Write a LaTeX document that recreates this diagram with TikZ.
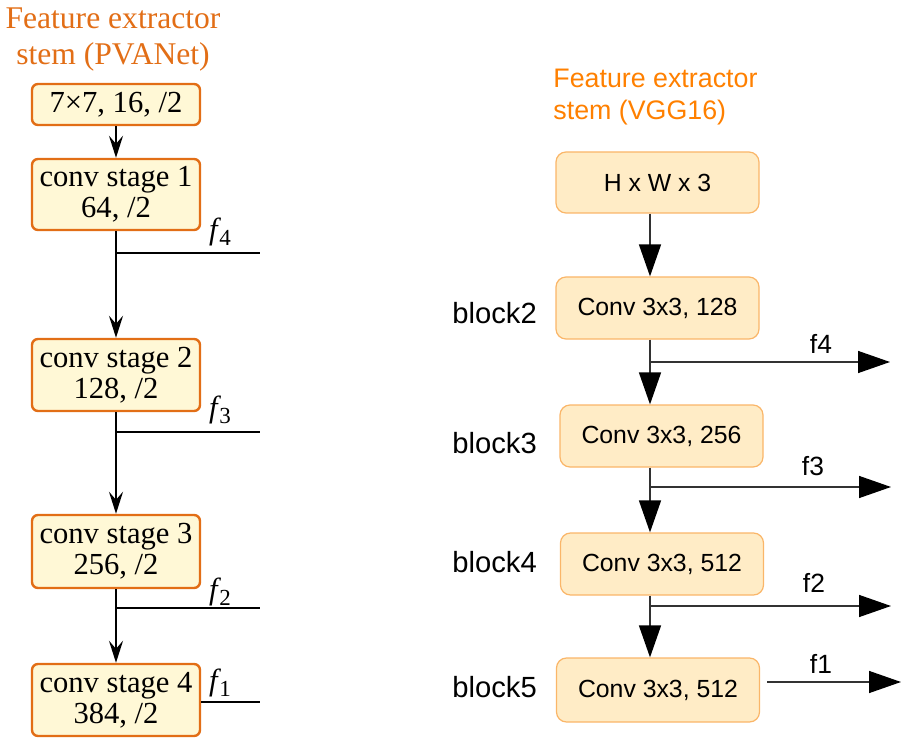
\documentclass[tikz,border=0pt]{standalone}
\usepackage{fontspec}
\setmainfont{Liberation Serif}
\setsansfont{Liberation Sans}
\usetikzlibrary{arrows.meta,calc}
\definecolor{pvaorange}{RGB}{226,110,22}
\definecolor{pvafill}{RGB}{255,248,214}
\definecolor{vggorange}{RGB}{255,128,0}
\definecolor{vggdraw}{RGB}{250,182,105}
\definecolor{vggfill}{RGB}{255,236,198}
\definecolor{vggline}{RGB}{50,50,50}
% italic f with a lowered upright index
\newcommand{\findex}[1]{f\kern0.8pt\raisebox{-0.45ex}{\upshape\fontsize{11.5}{12}\selectfont #1}}
\begin{document}
\begin{tikzpicture}[x=0.5pt,y=-0.5pt,
  pvabox/.style={draw=pvaorange, fill=pvafill, line width=1.2pt,
    rounded corners=3pt, minimum width=84pt, inner sep=0pt, align=center,
    font=\rmfamily\fontsize{15.3}{15.5}\selectfont},
  pvatitle/.style={text=pvaorange, align=center, inner sep=0pt,
    font=\rmfamily\fontsize{15.8}{18}\selectfont},
  pvalabel/.style={inner sep=0pt, font=\rmfamily\fontsize{15.3}{15}\selectfont\itshape},
  pvaline/.style={line width=1.25pt, draw=black},
  pvaarrow/.style={pvaline, -{Stealth[length=11pt,width=7pt,inset=4pt]}},
  vggbox/.style={draw=vggdraw, fill=vggfill, line width=0.6pt,
    rounded corners=5pt, minimum width=101.5pt, inner sep=0pt,
    font=\sffamily\fontsize{12.4}{14}\selectfont},
  vggtitle/.style={text=vggorange, align=left, inner sep=0pt,
    font=\sffamily\fontsize{13.4}{16}\selectfont},
  blocklabel/.style={inner sep=0pt, anchor=base west,
    font=\sffamily\fontsize{14.6}{16}\selectfont},
  flabel/.style={inner sep=0pt, font=\sffamily\fontsize{13.2}{14}\selectfont},
  vggline/.style={line width=0.7pt, draw=vggline},
  vggarrow/.style={vggline, -{Triangle[length=16pt,width=11pt,fill=black,color=black]}}
]
\useasboundingbox (0,0) rectangle (901,738);

% ---------------- PVANet stem ----------------
\node[pvatitle] (ptitle) at (113,39.5) {Feature extractor\\stem (PVANet)};

\node[pvabox, minimum height=20.5pt] (p0) at (116,104.5) {7×7, 16, /2};
\node[pvabox, minimum height=35.5pt] (p1) at (116,194.5) {conv stage 1\\64, /2};
\node[pvabox, minimum height=36pt]   (p2) at (116,375)   {conv stage 2\\128, /2};
\node[pvabox, minimum height=36.5pt] (p3) at (116,551.5) {conv stage 3\\256, /2};
\node[pvabox, minimum height=36pt]   (p4) at (116,700)   {conv stage 4\\384, /2};

\draw[pvaarrow] (p0) -- (p1);
\draw[pvaarrow] (p1) -- (p2);
\draw[pvaarrow] (p2) -- (p3);
\draw[pvaarrow] (p3) -- (p4);

\coordinate (j4) at (116,253);
\coordinate (j3) at (116,432);
\coordinate (j2) at (116,608);
\coordinate (e4) at (260,253);
\coordinate (e3) at (260,432);
\coordinate (e2) at (260,608);
\coordinate (e1) at (260,702);

\draw[pvaline] (j4) -- (e4);
\draw[pvaline] (j3) -- (e3);
\draw[pvaline] (j2) -- (e2);
\draw[pvaline] (p4.east |- e1) -- (e1);

\node[pvalabel] (pf4) at (220,232) {\findex{4}};
\node[pvalabel] (pf3) at (220,410) {\findex{3}};
\node[pvalabel] (pf2) at (220,592) {\findex{2}};
\node[pvalabel] (pf1) at (220,683) {\findex{1}};

% ---------------- VGG16 stem ----------------
\node[vggtitle, anchor=west] (vtitle) at (553,97) {Feature extractor\\stem (VGG16)};

\node[vggbox, minimum height=30.5pt] (v0) at (657.5,182.5) {H x W x 3};
\node[vggbox, minimum height=31pt]   (v1) at (657.5,308)   {Conv 3x3, 128};
\node[vggbox, minimum height=31pt]   (v2) at (661.5,436)   {Conv 3x3, 256};
\node[vggbox, minimum height=31pt]   (v3) at (662,564)     {Conv 3x3, 512};
\node[vggbox, minimum height=32pt]   (v4) at (658,690)     {Conv 3x3, 512};

\node[blocklabel] (bl2) at (452,323) {block2};
\node[blocklabel] (bl3) at (452,453) {block3};
\node[blocklabel] (bl4) at (452,572) {block4};
\node[blocklabel] (bl5) at (452,697) {block5};

\coordinate (cx) at (650,0);
\draw[vggarrow] (v0.south -| cx) -- (v1.north -| cx);
\draw[vggarrow] (v1.south -| cx) -- (v2.north -| cx);
\draw[vggarrow] (v2.south -| cx) -- (v3.north -| cx);
\draw[vggarrow] (v3.south -| cx) -- (v4.north -| cx);

\coordinate (k4) at (650,362);
\coordinate (k3) at (650,487);
\coordinate (k2) at (650,606);
\coordinate (g4) at (890,362);
\coordinate (g3) at (891,487);
\coordinate (g2) at (891,606);
\coordinate (g1) at (901,682);

\draw[vggarrow] (k4) -- (g4);
\draw[vggarrow] (k3) -- (g3);
\draw[vggarrow] (k2) -- (g2);
\draw[vggarrow] ([xshift=3.5pt]v4.east |- g1) -- (g1);

\node[flabel] (vf4) at (821,344) {f4};
\node[flabel] (vf3) at (813,466) {f3};
\node[flabel] (vf2) at (814,583) {f2};
\node[flabel] (vf1) at (821,664) {f1};
\end{tikzpicture}
\end{document}
